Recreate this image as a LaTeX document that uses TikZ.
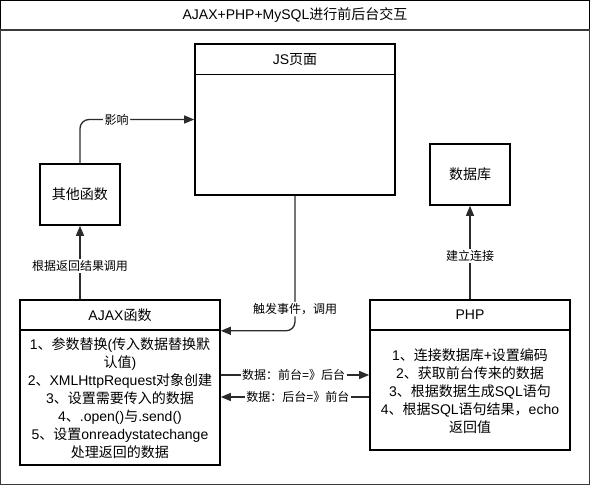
\documentclass[tikz,border=0pt]{standalone}
\usepackage{fontspec}
\setmainfont{Liberation Sans}
\newfontfamily\zhfont{Noto Sans CJK SC}
\newcommand\zh[1]{{\zhfont #1}}
\usetikzlibrary{arrows.meta}
\definecolor{framegray}{HTML}{3A3A3A}
\definecolor{conngray}{HTML}{2B2B2B}
\tikzset{
  box/.style={draw=black, line width=1.6pt, rectangle, inner sep=0pt, fill=white},
  hdr/.style={draw=black, line width=1.6pt, rectangle, inner sep=0pt, minimum width=200pt, minimum height=30pt,
    font=\fontsize{14}{18}\selectfont},
  bodytext/.style={align=center, inner sep=0pt, font=\fontsize{14}{18}\selectfont},
  conn/.style={draw=conngray, line width=1.3pt, -{Triangle[length=10pt,width=8pt]}},
  plainconn/.style={draw=conngray, line width=1.3pt},
  elabel/.style={fill=white, inner sep=1.5pt, font=\fontsize{12}{14}\selectfont, text=black},
}
\begin{document}
\begin{tikzpicture}[x=1pt,y=-1pt]
\useasboundingbox (0,0) rectangle (590,485);
% outer frame
\draw[framegray, line width=1.4pt] (0.7,0.7) rectangle (589.3,484.3);
\draw[black, line width=1pt] (0.5,30) -- (0.5,0.5) -- (589.5,0.5) -- (589.5,30);
\draw[framegray, line width=1.6pt] (0,30) -- (590,30);
\node[font=\fontsize{14}{18}\selectfont] (title) at (295,15.5) {AJAX+PHP+MySQL\zh{进行前后台交互}};

% JS page
\node[box, minimum width=200pt, minimum height=151pt] (js) at (295,119.5) {};
\node[hdr] (jsh) at (295,59.5) {JS\zh{页面}};

% other functions
\node[box, minimum width=80pt, minimum height=61pt, font=\fontsize{14}{18}\selectfont] (qt) at (80,194.5) {\zh{其他函数}};

% database
\node[box, minimum width=80pt, minimum height=61pt, font=\fontsize{14}{18}\selectfont] (db) at (470,174.5) {\zh{数据库}};

% AJAX
\node[box, minimum width=200pt, minimum height=165pt] (ajax) at (120,382.5) {};
\node[hdr] (ajaxh) at (120,315) {AJAX\zh{函数}};
\node[bodytext] (ajaxb) at (120,398.5) {1\zh{、参数替换}(\zh{传入数据替换默}\\
\zh{认值})\\
2\zh{、}XMLHttpRequest\zh{对象创建}\\
3\zh{、设置需要传入的数据}\\
4\zh{、}.open()\zh{与}.send()\\
5\zh{、设置}onreadystatechange\\
\zh{处理返回的数据}};

% PHP
\node[box, minimum width=200pt, minimum height=150pt] (php) at (470,375) {};
\node[hdr] (phph) at (470,315) {PHP};
\node[bodytext] (phpb) at (470,391) {1\zh{、连接数据库}+\zh{设置编码}\\
2\zh{、获取前台传来的数据}\\
3\zh{、根据数据生成}SQL\zh{语句}\\
4\zh{、根据}SQL\zh{语句结果，}echo\\
\zh{返回值}};

% connectors
\draw[conn, rounded corners=9pt] (qt.north) |- node[elabel, pos=0.66] {\zh{影响}} (js.west);
\draw[conn] (qt.south |- ajaxh.north) -- node[elabel, pos=0.45] {\zh{根据返回结果调用}} (qt.south);
\draw[conn] (php.north) -- node[elabel, pos=0.46] {\zh{建立连接}} (db.south);
\draw[conn, rounded corners=9pt] (js.south) |- node[elabel, pos=0.42] {\zh{触发事件，调用}} (ajaxh.south east);
\draw[conn] (ajax.east |- 0,375) -- node[elabel, pos=0.49] {\zh{数据：前台}=\zh{》后台}} (php.west |- 0,375);
\draw[conn] (php.west |- 0,397) -- node[elabel, pos=0.48] {\zh{数据：后台}=\zh{》前台}} (ajax.east |- 0,397);
\end{tikzpicture}
\end{document}
